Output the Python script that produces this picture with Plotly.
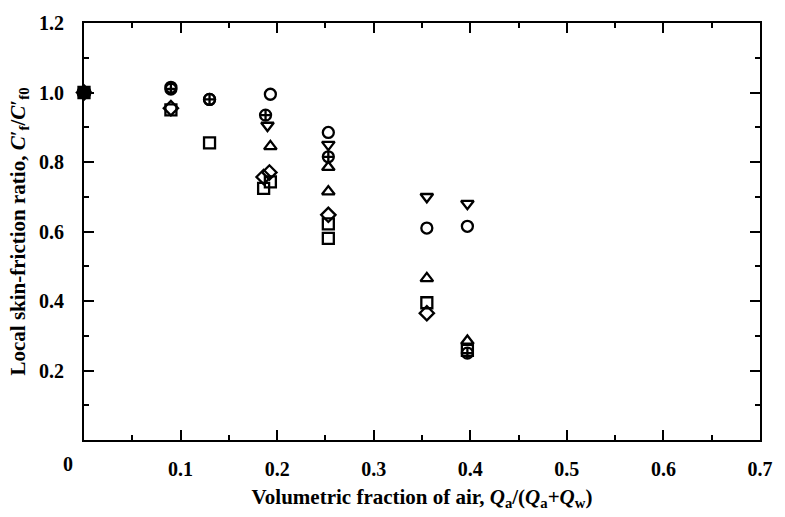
import plotly.graph_objects as go

# Data
circle_x = [0.0, 0.090, 0.130, 0.193, 0.253, 0.355, 0.397]
circle_y = [1.0, 1.015, 0.980, 0.995, 0.885, 0.610, 0.615]

circlecross_x = [0.090, 0.130, 0.188, 0.253, 0.397]
circlecross_y = [1.010, 0.980, 0.935, 0.815, 0.250]

tridown_x = [0.0, 0.190, 0.253, 0.355, 0.397]
tridown_y = [1.0, 0.905, 0.850, 0.700, 0.680]

triup_x = [0.0, 0.193, 0.253, 0.253, 0.355, 0.397]
triup_y = [1.0, 0.845, 0.785, 0.715, 0.465, 0.285]

diamond_x = [0.0, 0.090, 0.192, 0.186, 0.253, 0.355]
diamond_y = [1.0, 0.955, 0.770, 0.757, 0.648, 0.365]

square_x = [0.0, 0.090, 0.130, 0.186, 0.193, 0.253, 0.253, 0.355, 0.397]
square_y = [1.0, 0.950, 0.855, 0.724, 0.743, 0.622, 0.580, 0.395, 0.258]

x_ticks = [0.1, 0.2, 0.3, 0.4, 0.5, 0.6, 0.7]
y_ticks = [0.2, 0.4, 0.6, 0.8, 1.0, 1.2]

serif = "Liberation Serif"

fig = go.Figure()

def add(xs, ys, sym):
    fig.add_trace(go.Scatter(
        x=xs, y=ys, mode="markers",
        marker=dict(symbol=sym, size=11, color="black",
                    line=dict(color="black", width=2.3)),
        showlegend=False, cliponaxis=False))

add(square_x, square_y, "square-open")
add(diamond_x, diamond_y, "diamond-open")
add(triup_x, triup_y, "triangle-up-open")
add(tridown_x, tridown_y, "triangle-down-open")
add(circlecross_x, circlecross_y, "circle-cross-open")
add(circle_x, circle_y, "circle-open")
# origin reference point (all series coincide, appears solid)
fig.add_trace(go.Scatter(x=[0.0], y=[1.0], mode="markers",
                         marker=dict(symbol="square", size=11, color="black"),
                         showlegend=False, cliponaxis=False))

tickfont = dict(family=serif, size=20, color="black", weight="bold")
titlefont = dict(family=serif, size=21, color="black", weight="bold")

axis_common = dict(
    showgrid=False, zeroline=False, showline=True, linecolor="black",
    linewidth=2, mirror="allticks", ticks="inside", ticklen=10,
    tickwidth=2, tickcolor="black", tickfont=tickfont,
)

fig.update_xaxes(
    range=[0, 0.7], tickvals=x_ticks,
    ticktext=[f"{v:.1f}" for v in x_ticks],
    minor=dict(dtick=0.05, ticks="inside", ticklen=5, tickwidth=2,
               tickcolor="black"),
    ticklabelstandoff=10,
    title=dict(text="Volumetric fraction of air, <i>Q</i><sub>a</sub>/(<i>Q</i><sub>a</sub>+<i>Q</i><sub>w</sub>)",
               font=titlefont, standoff=10),
    **axis_common)

fig.update_yaxes(
    range=[0, 1.2], tickvals=y_ticks,
    ticktext=[f"{v:.1f}" for v in y_ticks],
    minor=dict(dtick=0.1, ticks="inside", ticklen=5, tickwidth=2,
               tickcolor="black"),
    ticklabelstandoff=14,
    title=dict(text="Local skin-friction ratio, <i>C</i>\u2032<sub>f</sub>/<i>C</i>\u2032<sub>f0</sub>",
               font=titlefont, standoff=8),
    **axis_common)

fig.add_annotation(text="0", x=0, y=0, xref="x", yref="y",
                   xshift=-16, yshift=-24, showarrow=False, font=tickfont)

fig.update_layout(
    width=785, height=517,
    margin=dict(l=84, r=16, t=14, b=67),
    paper_bgcolor="white", plot_bgcolor="white",
)

fig.write_html("out.html")
